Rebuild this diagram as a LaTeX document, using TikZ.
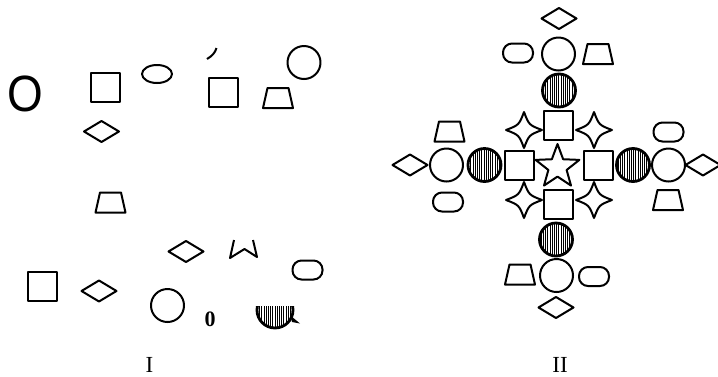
\documentclass[tikz,border=0pt]{standalone}
\usepackage{fontspec}
\setmainfont{Liberation Serif}
\newfontfamily\sansO{Liberation Sans}
\usetikzlibrary{patterns.meta,calc}
\tikzset{
  shp/.style={line width=2.0, line join=round},
  hatch/.style={line width=2.8, pattern={Lines[angle=90,distance=2.2pt,line width=0.75pt]}},
  sqr/.pic={\draw[shp] (-14.5,-14.5) rectangle (14.5,14.5);},
  circ/.pic={\draw[shp] (0,0) circle (16.5);},
  hcirc/.pic={\draw[hatch] (0,0) circle (16.5);},
  dia/.pic={\draw[shp] (-17.5,0) -- (0,-10.5) -- (17.5,0) -- (0,10.5) -- cycle;},
  trap/.pic={\draw[shp] (-15,10) -- (15,10) -- (10.5,-10) -- (-10.5,-10) -- cycle;},
  oval/.pic={\draw[shp, rounded corners=9] (-15,-9.5) rectangle (15,9.5);},
  star4/.pic={\draw[shp] (0,-18) .. controls (5,-5) .. (18,0) .. controls (5,5) .. (0,18) .. controls (-5,5) .. (-18,0) .. controls (-5,-5) .. (0,-18) -- cycle;},
  lbl/.style={font=\fontsize{23}{23}\selectfont, inner sep=0pt}
}
\begin{document}
\begin{tikzpicture}[x=1pt,y=-1pt]
\useasboundingbox (0,0) rectangle (718,376);
% ---------- Panel I ----------
\node[inner sep=0pt, font=\sansO\fontsize{51}{51}\selectfont, xscale=0.9] (bigO) at (25,94) {O};
\pic at (105.5,87.5) {sqr};
\draw[shp] (157,74) ellipse (15 and 9);
\draw[shp] (207,59) .. controls (212,56) and (215,53) .. (216.5,48);
\pic at (223,92.5) {sqr};
\pic at (304,62.5) {circ};
\pic at (278,98) {trap};
\pic at (101.5,131.5) {dia};
\pic at (110.5,202.5) {trap};
\pic at (186,251.5) {dia};
\draw[shp] (234,240) -- (230,258) -- (244.5,249) -- (257,257) -- (253,240);
\pic at (307.5,270) {oval};
\pic at (42.5,286.5) {sqr};
\pic at (99,291) {dia};
\pic at (167.5,305.5) {circ};
\node[inner sep=0pt, font=\bfseries\fontsize{22}{22}\selectfont] (zero) at (210,319.5) {0};
\begin{scope}
  \clip (250,306) rectangle (300,335);
  \fill[pattern={Lines[angle=90,distance=2.2pt,line width=0.75pt]}] (275,310) circle (18);
  \draw[line width=2.8] (275,310) circle (18);
\end{scope}
\fill (291,316) -- (300,323.5) -- (292,322) -- cycle;
\node[lbl] (lI) at (149.5,364.5) {I};
% ---------- Panel II ----------
\pic at (559,18.5) {dia};
\pic at (518,53) {oval};
\pic at (558.5,54) {circ};
\pic at (598,54) {trap};
\pic at (559,90.5) {hcirc};
\pic at (558.5,125.5) {sqr};
\pic at (524,130) {star4};
\pic at (594,130) {star4};
\pic at (449.5,131.5) {trap};
\pic at (668.5,132) {oval};
% middle row
\pic at (410,165) {dia};
\pic at (446.5,165) {circ};
\pic at (484.5,165) {hcirc};
\pic at (519,165) {sqr};
\coordinate (sc) at (557.5,167);
\draw[shp] ($(sc)+(-90:23)$) -- ($(sc)+(-54:9.6)$) -- ($(sc)+(-18:23)$)
  -- ($(sc)+(18:9.6)$) -- ($(sc)+(54:23)$) -- ($(sc)+(90:9.6)$)
  -- ($(sc)+(126:23)$) -- ($(sc)+(162:9.6)$) -- ($(sc)+(198:23)$)
  -- ($(sc)+(234:9.6)$) -- cycle;
\pic at (598.5,165) {sqr};
\pic at (633,165) {hcirc};
\pic at (668.5,165) {circ};
\pic at (703,165) {dia};
% lower
\pic at (448,202) {oval};
\pic at (524,200) {star4};
\pic at (558.5,204) {sqr};
\pic at (594,200) {star4};
\pic at (668,200) {trap};
\pic at (556,239.5) {hcirc};
\pic at (520,274.5) {trap};
\pic at (556.5,275.5) {circ};
\pic at (594,276.5) {oval};
\pic at (556,307.5) {dia};
\node[lbl] (lII) at (560,364.5) {II};
\end{tikzpicture}
\end{document}
